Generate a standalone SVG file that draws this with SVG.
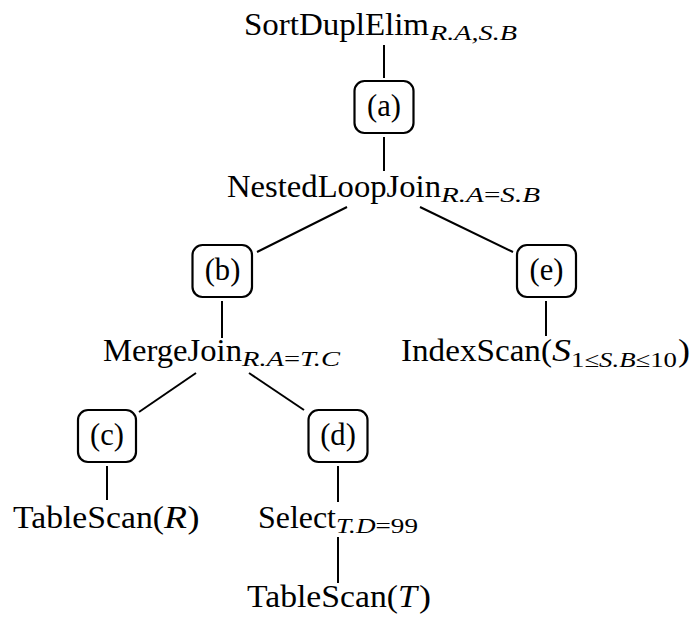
<svg xmlns="http://www.w3.org/2000/svg" width="692" height="621" viewBox="0 0 692 621">
<style>
text{font-family:"Liberation Serif","Times New Roman",serif;fill:#000}
.m{font-size:30.6px}
.s{font-size:21.4px;font-style:italic}
.u{font-style:normal}
.i{font-style:italic}
.lb{font-size:30.6px;text-anchor:middle}
.box{fill:none;stroke:#000;stroke-width:2.2}
#connectors line{stroke:#000;stroke-width:2;stroke-linecap:butt}
</style>
<rect width="692" height="621" fill="#fff"/>
<g id="connectors">
<line x1="384" y1="45" x2="384" y2="78"/>
<line x1="384" y1="137" x2="384" y2="171"/>
<line x1="347" y1="207" x2="257" y2="252"/>
<line x1="420" y1="207" x2="513" y2="252"/>
<line x1="222" y1="301" x2="222" y2="338"/>
<line x1="546" y1="301" x2="546" y2="336"/>
<line x1="196" y1="373" x2="139" y2="412"/>
<line x1="249" y1="373" x2="304" y2="410"/>
<line x1="107" y1="466" x2="107" y2="500"/>
<line x1="338" y1="466" x2="338" y2="502"/>
<line x1="338" y1="537" x2="338" y2="583"/>
</g>
<g id="sortduplelim">
<text class="m" x="244" y="35" textLength="185" lengthAdjust="spacingAndGlyphs">SortDuplElim</text>
<text class="s" x="430" y="40" textLength="87" lengthAdjust="spacingAndGlyphs">R.A,S.B</text>
</g>
<g id="box-a">
<rect class="box" x="354.5" y="81" width="59" height="52" rx="10"/>
<text class="lb" x="384" y="115.5">(a)</text>
</g>
<g id="nestedloopjoin">
<text class="m" x="227" y="197" textLength="214" lengthAdjust="spacingAndGlyphs">NestedLoopJoin</text>
<text class="s" x="441" y="202" textLength="99" lengthAdjust="spacingAndGlyphs">R.A<tspan class="u">=</tspan>S.B</text>
</g>
<g id="box-b">
<rect class="box" x="192.5" y="245" width="59.5" height="52" rx="10"/>
<text class="lb" x="222.5" y="279.5">(b)</text>
</g>
<g id="box-e">
<rect class="box" x="517" y="245" width="59" height="52" rx="10"/>
<text class="lb" x="546.5" y="279.5">(e)</text>
</g>
<g id="mergejoin">
<text class="m" x="103" y="361" textLength="139" lengthAdjust="spacingAndGlyphs">MergeJoin</text>
<text class="s" x="242" y="366" textLength="98" lengthAdjust="spacingAndGlyphs">R.A<tspan class="u">=</tspan>T.C</text>
</g>
<g id="indexscan">
<text class="m" x="401" y="361" textLength="151" lengthAdjust="spacingAndGlyphs">IndexScan(</text>
<text class="m i" x="552" y="361" textLength="19" lengthAdjust="spacingAndGlyphs">S</text>
<text class="s" x="571" y="367" textLength="106" lengthAdjust="spacingAndGlyphs"><tspan class="u">1≤</tspan>S.B<tspan class="u">≤10</tspan></text>
<text class="m" x="678" y="361" textLength="12" lengthAdjust="spacingAndGlyphs">)</text>
</g>
<g id="box-c">
<rect class="box" x="78" y="410" width="58" height="52" rx="10"/>
<text class="lb" x="107" y="444.5">(c)</text>
</g>
<g id="box-d">
<rect class="box" x="308.5" y="410" width="59" height="52" rx="10"/>
<text class="lb" x="338" y="444.5">(d)</text>
</g>
<g id="tablescan-r">
<text class="m" x="13" y="528" textLength="151" lengthAdjust="spacingAndGlyphs">TableScan(</text>
<text class="m i" x="164" y="528" textLength="23" lengthAdjust="spacingAndGlyphs">R</text>
<text class="m" x="187.5" y="528" textLength="12" lengthAdjust="spacingAndGlyphs">)</text>
</g>
<g id="select">
<text class="m" x="258" y="528" textLength="78" lengthAdjust="spacingAndGlyphs">Select</text>
<text class="s" x="336" y="533" textLength="82" lengthAdjust="spacingAndGlyphs">T.D<tspan class="u">=99</tspan></text>
</g>
<g id="tablescan-t">
<text class="m" x="247" y="607" textLength="151" lengthAdjust="spacingAndGlyphs">TableScan(</text>
<text class="m i" x="398" y="607" textLength="19" lengthAdjust="spacingAndGlyphs">T</text>
<text class="m" x="419" y="607" textLength="12" lengthAdjust="spacingAndGlyphs">)</text>
</g>
</svg>
